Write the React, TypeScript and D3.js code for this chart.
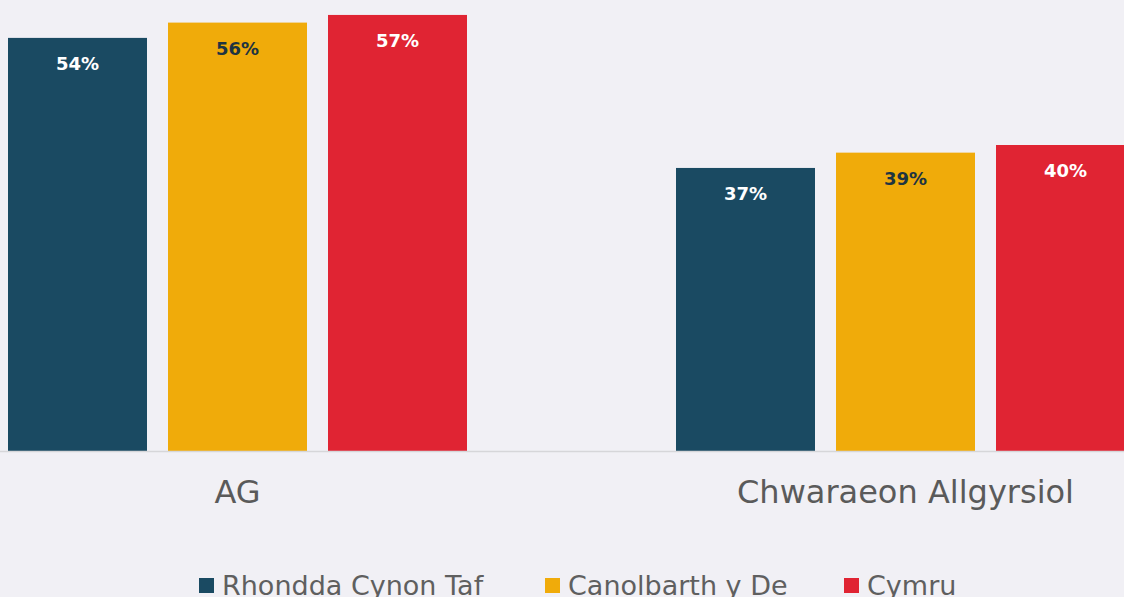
import React from "react";
import * as d3 from "d3";

const categories = ["AG", "Chwaraeon Allgyrsiol"];
const seriesNames = ["Rhondda Cynon Taf", "Canolbarth y De", "Cymru"];
const rctValues = [54, 37];
const cdValues = [56, 39];
const cymruValues = [57, 40];
const seriesValues = [rctValues, cdValues, cymruValues];

const colors = ["#1a4a62", "#f0ab0a", "#e02433"];
const labelColors = ["#ffffff", "#1e3441", "#ffffff"];

const W = 1124;
const H = 597;
const FONT = "'DejaVu Sans', sans-serif";

export default function App() {
  const x0 = d3.scaleBand<string>().domain(categories).range([-96.5, 1239.5]).padding(0);
  const x1 = d3
    .scaleBand<string>()
    .domain(seriesNames)
    .range([104.5, 563.5])
    .paddingInner(21 / 160)
    .paddingOuter(0);
  const y = d3.scaleLinear().domain([0, 60]).range([451, -8]);

  const legendItems = [
    { name: seriesNames[0], x: 199 },
    { name: seriesNames[1], x: 545 },
    { name: seriesNames[2], x: 844 },
  ];

  return (
    <svg
      width={W}
      height={H}
      style={{ position: "absolute", left: 0, top: 0, background: "#f1f0f5" }}
    >
      <rect x={0} y={0} width={W} height={H} fill="#f1f0f5" />
      {categories.map((c, ci) => (
        <g key={c} transform={`translate(${x0(c)},0)`}>
          {seriesNames.map((s, si) => {
            const v = seriesValues[si][ci];
            const bx = x1(s)!;
            const bw = x1.bandwidth();
            return (
              <g key={s}>
                <rect x={bx} y={y(v)} width={bw} height={y(0) - y(v)} fill={colors[si]} />
                <text
                  x={bx + bw / 2}
                  y={y(v) + 32}
                  textAnchor="middle"
                  fontFamily={FONT}
                  fontWeight="bold"
                  fontSize={18}
                  fill={labelColors[si]}
                >
                  {v}%
                </text>
              </g>
            );
          })}
          <text
            x={x0.bandwidth() / 2}
            y={503}
            textAnchor="middle"
            fontFamily={FONT}
            fontSize={32}
            fill="#5a5a5a"
          >
            {c}
          </text>
        </g>
      ))}
      <line x1={0} x2={W} y1={y(0) + 0.5} y2={y(0) + 0.5} stroke="#d6d6d9" strokeWidth={1.5} />
      {legendItems.map((it, i) => (
        <g key={it.name}>
          <rect x={it.x} y={578} width={15} height={15} fill={colors[i]} />
          <text x={it.x + 23} y={595} fontFamily={FONT} fontSize={27} fill="#5f5f5f">
            {it.name}
          </text>
        </g>
      ))}
    </svg>
  );
}
